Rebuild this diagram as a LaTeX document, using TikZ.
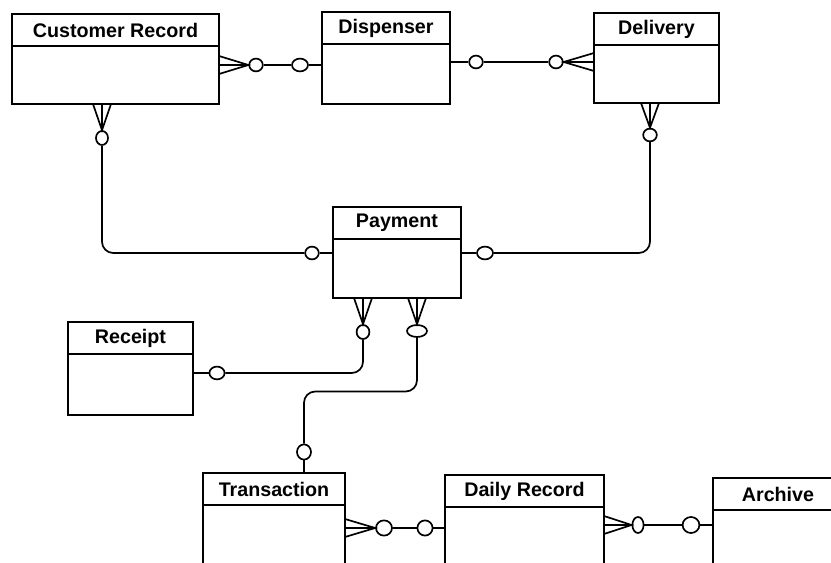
\documentclass[tikz,border=0pt]{standalone}
\usepackage{fontspec}
\setmainfont{Liberation Sans}
\usetikzlibrary{shapes.geometric,calc}

\tikzset{
  entity/.style={draw, line width=1.2pt, inner sep=0pt, outer sep=0pt, minimum height=0.8cm,
    font=\fontsize{14}{16}\selectfont\bfseries},
  entbody/.style={draw, line width=1.2pt, inner sep=0pt, outer sep=0pt, anchor=north},
  ring/.style={draw, line width=1.2pt, fill=white, ellipse, inner sep=0pt,
    minimum width=0.34cm, minimum height=0.32cm},
  link/.style={line width=1.2pt},
}

% crow's foot: #1 point on the box edge, #2 tip at the ring
\newcommand{\crowh}[2]{\draw[link] ($(#1)+(0,-9)$) -- (#2) -- ($(#1)+(0,9)$) (#1) -- (#2);}
\newcommand{\crowv}[2]{\draw[link] ($(#1)+(-9,0)$) -- (#2) -- ($(#1)+(9,0)$) (#1) -- (#2);}

\begin{document}
\begin{tikzpicture}[x=0.025cm, y=-0.025cm]
  \useasboundingbox (0,0) rectangle (831,563);
  \clip (0,0) rectangle (831,563);

  % entities
  \node[entity, minimum width=5.175cm] (cust) at (115.5,30) {Customer Record};
  \node[entbody, minimum width=5.175cm, minimum height=1.45cm] (custb) at (cust.south) {};
  \node[entity, minimum width=3.2cm] (disp) at (386,28) {Dispenser};
  \node[entbody, minimum width=3.2cm, minimum height=1.5cm] (dispb) at (disp.south) {};
  \node[entity, minimum width=3.125cm] (deliv) at (656.5,29) {Delivery};
  \node[entbody, minimum width=3.125cm, minimum height=1.45cm] (delivb) at (deliv.south) {};
  \node[entity, minimum width=3.2cm] (pay) at (397,223) {Payment};
  \node[entbody, minimum width=3.2cm, minimum height=1.475cm] (payb) at (pay.south) {};
  \node[entity, minimum width=3.125cm] (rec) at (130.5,338) {Receipt};
  \node[entbody, minimum width=3.125cm, minimum height=1.525cm] (recb) at (rec.south) {};
  \node[entity, minimum width=3.55cm] (trans) at (274,489) {Transaction};
  \node[entbody, minimum width=3.55cm, minimum height=3cm] (transb) at (trans.south) {};
  \node[entity, minimum width=3.975cm] (daily) at (524.5,491) {Daily Record};
  \node[entbody, minimum width=3.975cm, minimum height=3cm] (dailyb) at (daily.south) {};
  \node[entity, minimum width=3.25cm] (arch) at (778,494) {Archive};
  \node[entbody, minimum width=3.25cm, minimum height=3cm] (archb) at (arch.south) {};

  % optional ends
  \node[ring] (o1) at (256,65) {};
  \node[ring, minimum width=0.4cm] (o2) at (300,65) {};
  \node[ring] (o3) at (476,62) {};
  \node[ring] (o4) at (556,62) {};
  \node[ring, minimum width=0.3cm, minimum height=0.35cm] (o5) at (102,138) {};
  \node[ring] (o6) at (312,253) {};
  \node[ring] (o7) at (650,135) {};
  \node[ring, minimum width=0.4cm] (o8) at (485,253) {};
  \node[ring, minimum width=0.32cm, minimum height=0.35cm] (o9) at (363,332) {};
  \node[ring, minimum width=0.38cm] (o10) at (217,373) {};
  \node[ring, minimum width=0.5cm, minimum height=0.3cm] (o11) at (417,331) {};
  \node[ring, minimum width=0.35cm, minimum height=0.38cm] (o12) at (304,452) {};
  \node[ring, minimum width=0.4cm, minimum height=0.38cm] (o13) at (384,528) {};
  \node[ring, minimum width=0.38cm, minimum height=0.38cm] (o14) at (425,528) {};
  \node[ring, minimum width=0.28cm, minimum height=0.4cm] (o15) at (638,525) {};
  \node[ring, minimum width=0.42cm, minimum height=0.4cm] (o16) at (691,525) {};

  % relationships
  \crowh{custb.east |- o1}{o1.west}
  \draw[link] (o1) -- (o2) -- (dispb.west |- o2);
  \draw[link] (dispb.east |- o3) -- (o3) -- (o4);
  \crowh{delivb.west |- o4}{o4.east}

  \crowv{custb.south -| o5}{o5.north}
  \draw[link, rounded corners=8pt] (o5) |- (o6);
  \draw[link] (o6) -- (payb.west |- o6);
  \crowv{delivb.south -| o7}{o7.north}
  \draw[link, rounded corners=8pt] (o7) |- (o8);
  \draw[link] (o8) -- (payb.east |- o8);

  \crowv{payb.south -| o9}{o9.north}
  \draw[link, rounded corners=8pt] (o9) |- (o10);
  \draw[link] (o10) -- (recb.east |- o10);
  \crowv{payb.south -| o11}{o11.north}
  \draw[link, rounded corners=8pt] (o11) |- ($(o11)!.5!(o12)$) -| (o12);
  \draw[link] (o12) -- (o12 |- trans.north);

  \crowh{transb.east |- o13}{o13.west}
  \draw[link] (o13) -- (o14) -- (dailyb.west |- o14);
  \crowh{dailyb.east |- o15}{o15.west}
  \draw[link] (o15) -- (o16) -- (archb.west |- o16);
\end{tikzpicture}
\end{document}
